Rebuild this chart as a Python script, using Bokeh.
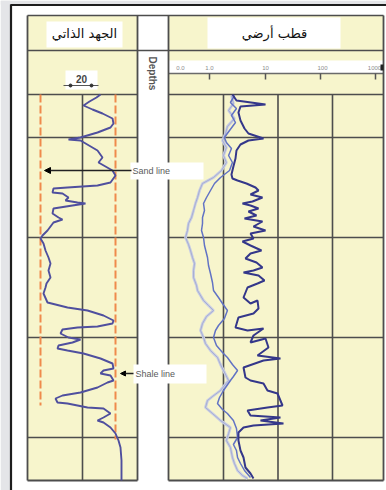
from bokeh.plotting import figure
from bokeh.models import Range1d, LogScale, Arrow, NormalHead
from bokeh.core.properties import value
from bokeh.embed import file_html
from bokeh.resources import INLINE

# ---------------- data ----------------
track_titles = ["الجهد الذاتي", "قطب أرضي"]
sp_scale_label = "20"
res_scale_labels = ["0.0", "1.0", "10", "100", "1000"]
depth_label = "Depths"
depth_grid = [1100, 1200, 1300, 1400]          # ft
res_grid = [1, 10, 100]                        # ohm.m decades
sand_line_mv = -45.0                           # mV
shale_line_mv = 0.0                            # mV

# SP log (mV) vs depth (ft)
sp_depth = [1057, 1060, 1064, 1068, 1072, 1076, 1081, 1086, 1090, 1095,
            1100, 1102, 1103, 1113, 1120, 1125, 1133, 1138, 1145, 1148,
            1150, 1151, 1155, 1156, 1160, 1163, 1165, 1166, 1168, 1171,
            1176, 1180, 1182, 1185, 1193, 1198, 1201, 1206, 1213, 1220,
            1226, 1233, 1240, 1246, 1250, 1256, 1265, 1270, 1273, 1278,
            1283, 1286, 1289, 1290, 1292, 1296, 1300, 1302, 1305, 1308,
            1311, 1313, 1316, 1321, 1326, 1331, 1333, 1336, 1338, 1343,
            1345, 1350, 1355, 1358, 1361, 1365, 1366, 1370, 1371, 1376,
            1380, 1383, 1385, 1390, 1396, 1403, 1410, 1423, 1443]
sp_mv = [-9.0, -11.4, -15.6, -19.2, -13.8, -7.8, -1.8, -1.2, -3.0, -10.8,
         -21.0, -28.2, -21.0, -10.8, -7.8, -10.2, -1.8, 0.0, -3.0, -10.8,
         -28.8, -37.2, -37.8, -31.8, -28.2, -30.0, -22.8, -18.0, -25.8, -37.2,
         -37.8, -34.2, -31.8, -37.2, -40.8, -43.8, -45.0, -43.2, -42.0, -40.2,
         -39.0, -40.2, -39.0, -41.4, -42.0, -43.2, -40.8, -28.8, -16.8, -7.2,
         -1.2, -1.8, -10.8, -22.8, -31.8, -33.0, -28.2, -21.0, -25.8, -34.2,
         -34.8, -28.8, -19.2, -9.0, -1.8, -1.2, -7.2, -9.0, -3.0, -1.2,
         -4.8, -10.8, -21.0, -31.8, -36.0, -34.8, -28.8, -16.8, -7.2, -3.0,
         -7.2, -10.8, -7.2, -3.0, 0.0, 1.8, 3.0, 3.6, 3.6]

# Resistivity curves (ohm.m) vs depth (ft)
rd_depth = [1057, 1063, 1067, 1069, 1075, 1083, 1091, 1096, 1101, 1103,
            1107, 1113, 1121, 1129, 1137, 1141, 1143, 1146, 1150, 1153,
            1157, 1160, 1164, 1166, 1168, 1171, 1174, 1178, 1181, 1184,
            1189, 1193, 1196, 1201, 1204, 1208, 1213, 1216, 1221, 1225,
            1230, 1233, 1235, 1238, 1243, 1246, 1250, 1260, 1266, 1263,
            1271, 1276, 1280, 1290, 1293, 1291, 1298, 1305, 1301, 1310,
            1318, 1321, 1323, 1330, 1340, 1343, 1346, 1353, 1356, 1368,
            1370, 1373, 1378, 1380, 1383, 1386, 1388, 1390, 1395, 1403,
            1413, 1420, 1430, 1436, 1441]
rd = [1.46, 1.73, 5.90, 2.05, 1.88, 2.05, 2.43, 2.87, 5.42, 2.87,
      2.05, 1.73, 1.66, 1.52, 1.40, 1.46, 1.81, 2.64, 3.87, 4.39,
      3.13, 5.19, 3.40, 2.23, 3.13, 4.39, 2.87, 4.03, 2.43, 5.19,
      3.55, 5.90, 3.13, 3.55, 2.23, 3.13, 4.98, 3.13, 2.53, 4.03,
      5.19, 3.55, 2.33, 4.39, 5.65, 4.21, 2.76, 2.33, 3.13, 4.21,
      4.39, 3.55, 1.88, 1.66, 2.76, 5.42, 3.55, 3.13, 5.90, 6.69,
      4.21, 11.1, 5.42, 2.33, 2.53, 3.13, 5.42, 6.41, 9.79, 12.1,
      6.41, 2.76, 3.13, 11.1, 4.77, 12.6, 3.55, 2.33, 1.88, 1.88,
      2.05, 2.33, 2.53, 3.13, 3.55]

rm_depth = [1058, 1065, 1071, 1078, 1085, 1093, 1100, 1105, 1111, 1118,
            1125, 1133, 1140, 1146, 1153, 1160, 1166, 1173, 1180, 1186,
            1193, 1200, 1208, 1220, 1228, 1236, 1245, 1253, 1260, 1266,
            1273, 1281, 1288, 1293, 1300, 1308, 1315, 1320, 1327, 1333,
            1339, 1343, 1353, 1360, 1366, 1372, 1376, 1383, 1391, 1400,
            1407, 1413, 1420, 1426, 1433, 1440]
rm = [1.59, 1.34, 1.73, 1.40, 1.66, 1.29, 1.04, 1.13, 1.40, 1.24,
      1.46, 1.29, 0.881, 0.684, 0.577, 0.488, 0.430, 0.448, 0.412, 0.412,
      0.395, 0.430, 0.448, 0.509, 0.531, 0.577, 0.628, 0.656, 0.810, 0.959,
      1.18, 1.04, 0.810, 0.713, 0.656, 0.744, 0.959, 1.18, 1.46, 1.81,
      1.52, 1.34, 1.0, 0.845, 0.776, 0.959, 1.18, 1.52, 1.73, 1.81,
      1.52, 1.73, 1.81, 2.05, 2.43, 3.13]

rs_depth = [1058, 1066, 1073, 1081, 1089, 1096, 1103, 1110, 1118, 1125,
            1133, 1140, 1146, 1153, 1160, 1166, 1173, 1180, 1186, 1193,
            1200, 1207, 1213, 1220, 1226, 1233, 1240, 1248, 1253, 1263,
            1268, 1273, 1279, 1286, 1293, 1300, 1306, 1313, 1320, 1327,
            1333, 1343, 1353, 1359, 1363, 1370, 1376, 1383, 1390, 1396,
            1403, 1410, 1420, 1426, 1433, 1438, 1441]
rs = [1.40, 1.52, 1.24, 1.59, 1.18, 1.09, 0.959, 1.13, 1.0, 1.13,
      0.919, 0.656, 0.412, 0.363, 0.334, 0.306, 0.282, 0.259, 0.228, 0.218,
      0.201, 0.228, 0.248, 0.270, 0.294, 0.282, 0.282, 0.320, 0.334, 0.430,
      0.531, 0.656, 0.488, 0.412, 0.379, 0.430, 0.467, 0.577, 0.776, 0.881,
      1.0, 1.24, 0.881, 0.628, 0.509, 0.467, 0.628, 0.881, 1.34, 1.24,
      1.13, 1.34, 1.46, 1.59, 1.81, 2.23, 2.76]

# ---------------- layout (page units) ----------------
W, H = 386, 490
X0, X1 = 0, 386          # frame edges in layout units
Y_TOP, Y_BOT = 0, 490
HDR_TOP, HDR_MID, TRK_TOP, TRK_BOT = 15, 50, 94, 480
L_LEFT, L_RIGHT = 27, 137
R_LEFT, R_RIGHT = 168, 383
DEPTH_AT_TOP = 1057      # depth at TRK_TOP, 1 ft per unit
SP_LEFT, SP_RIGHT = -52.8, 13.2
RES_X01, RES_DEC = 168.5, 54.5   # layout x of 0.1 ohm.m, units per decade

YEL = "#f7f5cc"
GRID = "#4d4d4d"

sp_per_u = (SP_RIGHT - SP_LEFT) / (L_RIGHT - L_LEFT)
sp_range = Range1d(SP_LEFT + (X0 - L_LEFT) * sp_per_u, SP_LEFT + (X1 - L_LEFT) * sp_per_u)
res_range = Range1d(10 ** (-1 + (X0 + 0.01 - RES_X01) / RES_DEC), 10 ** (-1 + (X1 - RES_X01) / RES_DEC))
depth_range = Range1d(DEPTH_AT_TOP + (Y_BOT - TRK_TOP), DEPTH_AT_TOP + (Y_TOP - TRK_TOP))

p = figure(width=W, height=H, x_range=Range1d(X0, X1), y_range=Range1d(Y_BOT, Y_TOP),
           output_backend="svg", toolbar_location=None, min_border=0,
           x_axis_location=None, y_axis_location=None)
p.grid.visible = False
p.outline_line_color = None
p.background_fill_color = "white"
p.border_fill_color = "white"
p.extra_x_ranges = {"sp": sp_range, "res": res_range}
p.extra_x_scales = {"res": LogScale()}
p.extra_y_ranges = {"depth": depth_range}

# page frame
p.quad(left=[X0, X0], right=[10, X1], top=[Y_TOP, Y_TOP], bottom=[Y_BOT, 4],
       color="#e4e5e8", line_color=None)
p.segment(x0=[10.5, 10], y0=[4, 4.5], x1=[10.5, X1], y1=[Y_BOT, 4.5],
          line_color="#1e1e1e", line_width=2.2)

# track backgrounds
p.quad(left=[L_LEFT, R_LEFT], right=[L_RIGHT, R_RIGHT], top=[HDR_TOP] * 2, bottom=[TRK_BOT] * 2,
       color=YEL, line_color=None)
# header white boxes
p.quad(left=[46, 207, 65, R_LEFT], right=[122, 340, 97, R_RIGHT],
       top=[21, 17, 70, 60], bottom=[47, 48, 89, 73], color="white", line_color=None)

# header lines
p.segment(x0=[L_LEFT] * 2 + [L_LEFT, R_LEFT], x1=[R_RIGHT] * 2 + [L_RIGHT, R_RIGHT],
          y0=[HDR_TOP, HDR_MID, TRK_TOP, TRK_TOP], y1=[HDR_TOP, HDR_MID, TRK_TOP, TRK_TOP],
          line_color=GRID, line_width=1.6)
p.segment(x0=[R_LEFT], x1=[R_RIGHT], y0=[73], y1=[73], line_color="#6a6a6a", line_width=1.3)

# track borders
p.segment(x0=[L_LEFT, L_RIGHT, R_LEFT, R_RIGHT], x1=[L_LEFT, L_RIGHT, R_LEFT, R_RIGHT],
          y0=[HDR_TOP] * 4, y1=[TRK_BOT] * 4, line_color=GRID, line_width=1.8)
p.segment(x0=[L_LEFT, R_LEFT], x1=[L_RIGHT, R_RIGHT], y0=[TRK_BOT] * 2, y1=[TRK_BOT] * 2,
          line_color=GRID, line_width=1.8)
p.segment(x0=[(L_LEFT + L_RIGHT) / 2], x1=[(L_LEFT + L_RIGHT) / 2], y0=[TRK_TOP], y1=[TRK_BOT],
          line_color=GRID, line_width=1.6)

# depth grid
p.segment(x0=[L_LEFT] * 4, x1=[L_RIGHT] * 4, y0=depth_grid, y1=depth_grid,
          y_range_name="depth", line_color=GRID, line_width=1.6)
p.segment(x0=[R_LEFT] * 4, x1=[R_RIGHT] * 4, y0=depth_grid, y1=depth_grid,
          y_range_name="depth", line_color=GRID, line_width=1.6)
# resistivity decade grid
p.segment(x0=res_grid, x1=res_grid, y0=[TRK_TOP] * 3, y1=[TRK_BOT] * 3,
          x_range_name="res", line_color=GRID, line_width=1.6)

# sand / shale base lines (dashed orange)
p.segment(x0=[sand_line_mv, shale_line_mv], x1=[sand_line_mv, shale_line_mv],
          y0=[DEPTH_AT_TOP] * 2, y1=[1368, 1402], x_range_name="sp", y_range_name="depth",
          line_color="#ef8a4c", line_width=2, line_dash="8 3")

# curves
p.line(x=rs, y=rs_depth, x_range_name="res", y_range_name="depth",
       line_color="#c8cde4", line_width=2.8)
p.line(x=rs, y=rs_depth, x_range_name="res", y_range_name="depth",
       line_color="#9ea6cd", line_width=0.8)
p.line(x=rm, y=rm_depth, x_range_name="res", y_range_name="depth",
       line_color="#6273c4", line_width=1.5)
p.line(x=rd, y=rd_depth, x_range_name="res", y_range_name="depth",
       line_color="#34378a", line_width=2)
p.line(x=sp_mv, y=sp_depth, x_range_name="sp", y_range_name="depth",
       line_color="#4f4f9e", line_width=1.9)

# annotations
p.quad(left=[130, 133], right=[203, 206], top=[162, 364], bottom=[179, 383],
       color="white", line_color=None)
p.add_layout(Arrow(end=NormalHead(size=6, fill_color="black", line_color="black"),
                   x_start=131, y_start=170, x_end=44, y_end=170,
                   line_color="#222222", line_width=1.4))
p.add_layout(Arrow(end=NormalHead(size=5, fill_color="black", line_color="black"),
                   x_start=133, y_start=373, x_end=120, y_end=373,
                   line_color="#222222", line_width=1.4))
p.text(x=[132, 135], y=[170, 373], text=["Sand line", "Shale line"],
       text_font=value("Liberation Sans"), text_font_size="9px", text_color="#5a5a5a",
       text_align="left", text_baseline="middle")

# titles
p.text(x=[84, 274], y=[33, 33], text=track_titles, text_font=value("DejaVu Sans"),
       text_font_size="13px", text_color="#111111", text_align="center", text_baseline="middle")
p.text(x=[152], y=[56], text=[depth_label], angle=-1.5708, text_font=value("Liberation Sans"),
       text_font_size="10px", text_font_style="bold", text_color="#555555",
       text_align="left", text_baseline="middle")

# SP scale bar
p.text(x=[81], y=[78], text=[sp_scale_label], text_font=value("Liberation Sans"),
       text_font_size="10px", text_font_style="bold", text_color="#444444",
       text_align="center", text_baseline="middle")
p.segment(x0=[63], x1=[98], y0=[85], y1=[85], line_color="#555555", line_width=1)
p.scatter(x=[70, 91], y=[85, 85], size=3, color="#333333")

# resistivity header ruler
p.text(x=[180, 209, 265, 322, 374], y=[67, 67, 67, 67, 67], text=res_scale_labels,
       text_font=value("Liberation Sans"), text_font_size="6px", text_color="#8c8c8c",
       text_align="center", text_baseline="middle")
p.segment(x0=[209, 265, 320, 375], x1=[209, 265, 320, 375], y0=[73] * 4, y1=[79] * 4,
          line_color="#555555", line_width=1.5)
p.quad(left=[380], right=[383], top=[64], bottom=[70], color="#222222", line_color=None)

open("out.html", "w").write(file_html(p, INLINE))
